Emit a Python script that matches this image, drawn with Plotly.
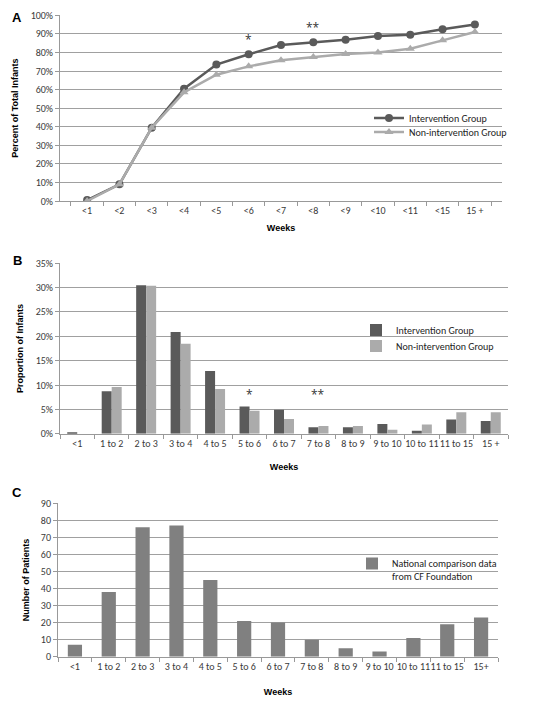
import plotly.graph_objects as go

# Panel A data (cumulative)
cats_a = ["<1", "<2", "<3", "<4", "<5", "<6", "<7", "<8", "<9", "<10", "<11", "<15", "15 +"]
interv_a = [0.005, 0.09, 0.395, 0.605, 0.735, 0.79, 0.84, 0.855, 0.868, 0.888, 0.895, 0.925, 0.95]
nonint_a = [0.0, 0.09, 0.395, 0.585, 0.68, 0.725, 0.758, 0.775, 0.792, 0.80, 0.82, 0.865, 0.91]

# Panel B data (proportion)
cats_b = ["<1", "1 to 2", "2 to 3", "3 to 4", "4 to 5", "5 to 6", "6 to 7", "7 to 8", "8 to 9",
          "9 to 10", "10 to 11", "11 to 15", "15 +"]
interv_b = [0.003, 0.087, 0.305, 0.209, 0.129, 0.056, 0.049, 0.013, 0.013, 0.020, 0.006, 0.029, 0.026]
nonint_b = [0.0, 0.096, 0.304, 0.185, 0.092, 0.047, 0.030, 0.016, 0.016, 0.008, 0.019, 0.044, 0.044]

# Panel C data (counts)
cats_c = ["<1", "1 to 2", "2 to 3", "3 to 4", "4 to 5", "5 to 6", "6 to 7", "7 to 8", "8 to 9",
          "9 to 10", "10 to 11", "11 to 15", "15+"]
national_c = [7, 38, 76, 77, 45, 21, 20, 10, 5, 3, 11, 19, 23]

OFF = 8  # default page body margin
W, H = 551 - OFF, 702 - OFF
DARK = "#5a5a5a"
LIGHT = "#ababab"
GRID = "#a0a0a0"
FONTFAM = "Carlito, Lato, sans-serif"
TICKFONT = dict(family=FONTFAM, size=10, color="#3a3a3a")
LEGFONT = dict(family=FONTFAM, size=10, color="#222222")
TITLEFONT = dict(family="Liberation Sans, Arial, sans-serif", size=9, color="#000000")

def fx(px):
    return (px - OFF) / W

def fy(py):
    return 1 - (py - OFF) / H

def px_x(a, b):
    return [fx(a), fx(b)]

def px_y(top, bottom):
    return [fy(bottom), fy(top)]

fig = go.Figure()

fig.add_trace(go.Scatter(x=cats_a, y=interv_a, mode="lines+markers", name="Intervention Group",
                         line=dict(color=DARK, width=2.5), marker=dict(symbol="circle", size=8, color=DARK),
                         xaxis="x", yaxis="y", legend="legend"))
fig.add_trace(go.Scatter(x=cats_a, y=nonint_a, mode="lines+markers", name="Non-intervention Group",
                         line=dict(color=LIGHT, width=2.5), marker=dict(symbol="triangle-up", size=8, color=LIGHT),
                         xaxis="x", yaxis="y", legend="legend2"))

fig.add_trace(go.Bar(x=cats_b, y=interv_b, name="Intervention Group", marker=dict(color=DARK, line=dict(width=0)),
                     xaxis="x2", yaxis="y2", legend="legend3"))
fig.add_trace(go.Bar(x=cats_b, y=nonint_b, name="Non-intervention Group", marker=dict(color=LIGHT, line=dict(width=0)),
                     xaxis="x2", yaxis="y2", legend="legend4"))

fig.add_trace(go.Bar(x=cats_c, y=national_c, name="National comparison data<br>from CF Foundation",
                     marker=dict(color="#808080", line=dict(width=0)), width=0.42,
                     xaxis="x3", yaxis="y3", legend="legend5"))

common_x = dict(showgrid=False, showline=True, linecolor="#999999", linewidth=1, ticks="outside",
                tickson="boundaries", ticklen=4, tickcolor="#999999", tickfont=TICKFONT, tickangle=0,
                type="category")
common_y = dict(showgrid=True, gridcolor=GRID, gridwidth=1, showline=True, linecolor="#999999",
                ticks="outside", ticklen=4, tickcolor="#999999", tickfont=TICKFONT, zeroline=False)

def leg(xpx, ypx, valign="middle"):
    return dict(x=fx(xpx), y=fy(ypx), xanchor="left", yanchor="middle", bgcolor="rgba(255,255,255,0)",
                font=LEGFONT, tracegroupgap=0, borderwidth=0, valign=valign)

fig.update_layout(
    width=W, height=H, margin=dict(l=0, r=0, t=0, b=0, autoexpand=False),
    paper_bgcolor="white", plot_bgcolor="white",
    barmode="group", bargap=0.42, bargroupgap=0,
    showlegend=True,
    xaxis=dict(common_x, domain=px_x(60, 502), anchor="y",
               title=dict(text="<b>Weeks</b>", font=TITLEFONT, standoff=8)),
    yaxis=dict(common_y, domain=px_y(15.3, 201), anchor="x", range=[0, 1], dtick=0.1, tickformat=".0%",
               title=dict(text="<b>Percent of Total Infants</b>", font=TITLEFONT, standoff=10)),
    xaxis2=dict(common_x, domain=px_x(60, 508), anchor="y2",
                title=dict(text="<b>Weeks</b>", font=TITLEFONT, standoff=14)),
    yaxis2=dict(common_y, domain=px_y(263.3, 433.7), anchor="x2", range=[0, 0.35], dtick=0.05, tickformat=".0%",
                title=dict(text="<b>Proportion of Infants</b>", font=TITLEFONT, standoff=10)),
    xaxis3=dict(common_x, domain=px_x(58, 498), anchor="y3",
                title=dict(text="<b>Weeks</b>", font=TITLEFONT, standoff=16)),
    yaxis3=dict(common_y, domain=px_y(503.3, 656.7), anchor="x3", range=[0, 90], dtick=10,
                title=dict(text="<b>Number of Patients</b>", font=TITLEFONT, standoff=9)),
    legend=leg(369, 118),
    legend2=leg(369, 132),
    legend3=leg(356, 330),
    legend4=leg(356, 346),
    legend5=leg(352, 570, valign="top"),
)

ann_font = dict(family="Open Sans, sans-serif", size=12, color="#333333")
fig.add_annotation(x="<6", y=0.79, xref="x", yref="y", text="*", showarrow=False, yshift=15, font=ann_font)
fig.add_annotation(x="<8", y=0.855, xref="x", yref="y", text="**", showarrow=False, yshift=15, font=ann_font)
fig.add_annotation(x="5 to 6", y=0.056, xref="x2", yref="y2", text="*", showarrow=False, yshift=12, font=ann_font)
fig.add_annotation(x="7 to 8", y=0.056, xref="x2", yref="y2", text="**", showarrow=False, yshift=12, font=ann_font)

panel_font = dict(family="Liberation Sans, Arial, sans-serif", size=13, color="#000000")
for lbl, ypx in [("<b>A</b>", 8.5), ("<b>B</b>", 251), ("<b>C</b>", 483)]:
    fig.add_annotation(x=fx(17), y=fy(ypx), xref="paper", yref="paper", text=lbl, showarrow=False,
                       xanchor="center", yanchor="top", font=panel_font)

fig.write_html("out.html")
